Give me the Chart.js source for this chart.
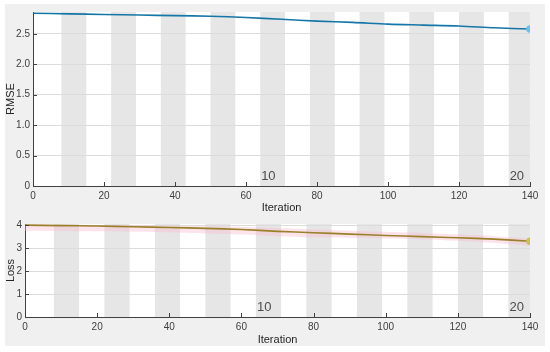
<!DOCTYPE html>
<html><head><meta charset="utf-8">
<script src="https://cdn.jsdelivr.net/npm/chart.js@4/dist/chart.umd.min.js"></script>
<style>
html,body{margin:0;padding:0;background:#fff;width:550px;height:352px;overflow:hidden;}
#panel{position:absolute;left:5px;top:4px;width:540px;height:342px;background:#f0f0f0;}
canvas{position:absolute;left:0;}
#c1{top:0;} #c2{top:215px;}
</style></head>
<body>
<div id="panel"></div>
<canvas id="c1" width="550" height="215"></canvas>
<canvas id="c2" width="550" height="137"></canvas>
<script>
// ---- data ----
const iterations = [0,10,20,30,40,50,60,70,80,90,100,110,120,130,140];
const rmse       = [2.84,2.83,2.82,2.81,2.80,2.79,2.77,2.74,2.71,2.69,2.66,2.645,2.63,2.60,2.58];
const loss       = [4.00,3.98,3.96,3.93,3.90,3.86,3.81,3.73,3.67,3.61,3.55,3.50,3.45,3.39,3.30];
const lossRawHigh= [4.04,4.03,4.01,4.00,3.97,3.95,3.92,3.88,3.82,3.76,3.71,3.66,3.60,3.52,3.42];
const lossRawLow = [3.76,3.75,3.73,3.71,3.68,3.64,3.59,3.52,3.47,3.44,3.42,3.38,3.32,3.22,3.10];
const epochStarts = [1,8,15,22,29,36,43,50,57,64,71,78,85,92,99,106,113,120,127,134];
const epochLabels = [10,20];
const xTicks = [0,20,40,60,80,100,120,140];
const rmseTicks = [0,0.5,1,1.5,2,2.5];
const lossTicks = [0,1,2,3,4];

const FONT = "'Liberation Sans', Arial, sans-serif";
const pts = (ys) => iterations.map((x,i)=>({x, y: ys[i]}));

const bandPlugin = {
  id:'bands',
  beforeDraw(chart){
    const {ctx, chartArea:a, scales:{x}} = chart;
    ctx.save();
    ctx.fillStyle='#ffffff';
    ctx.fillRect(a.left,a.top,a.right-a.left,a.bottom-a.top);
    ctx.fillStyle='#e6e6e6';
    epochStarts.forEach((s,i)=>{
      if ((i+1)%2===0){
        const x0 = Math.max(a.left, x.getPixelForValue(s));
        const x1 = Math.min(a.right, x.getPixelForValue(s+7));
        ctx.fillRect(x0,a.top,x1-x0,a.bottom-a.top);
      }
    });
    ctx.restore();
  },
  afterDraw(chart){
    const {ctx, chartArea:a, scales:{x,y}} = chart;
    ctx.save();
    ctx.fillStyle='#4d4d4d';
    ctx.font = "13px "+FONT;
    ctx.textAlign='center'; ctx.textBaseline='bottom';
    epochLabels.forEach(e=>{
      const s = epochStarts[e-1];
      ctx.fillText(String(e), x.getPixelForValue(s+2.3), a.bottom-3);
    });
    ctx.strokeStyle='#404040'; ctx.lineWidth=1;
    ctx.beginPath();
    xTicks.forEach(t=>{
      const px = Math.round(x.getPixelForValue(t))+0.5;
      ctx.moveTo(px, a.bottom); ctx.lineTo(px, a.bottom-4);
    });
    y.ticks.forEach(t=>{
      const py = Math.round(y.getPixelForValue(t.value))+0.5;
      ctx.moveTo(a.left, py); ctx.lineTo(a.left+4, py);
    });
    ctx.stroke();
    ctx.restore();
  }
};

function makeChart(id, datasets, yTitle, yMax, yTickVals, yWidth, xHeight, pad, titlePadBottom){
  return new Chart(document.getElementById(id), {
    type:'line',
    data:{datasets},
    options:{
      responsive:false, animation:false, devicePixelRatio:1,
      layout:{padding:pad},
      plugins:{legend:{display:false}, tooltip:{enabled:false}},
      scales:{
        x:{type:'linear', min:0, max:140,
          afterBuildTicks(s){ s.ticks = xTicks.map(v=>({value:v})); },
          afterFit(s){ s.height = xHeight; },
          grid:{drawOnChartArea:false, drawTicks:false},
          border:{color:'#404040', width:1},
          ticks:{color:'#404040', font:{family:FONT,size:10}, padding:4, maxRotation:0, autoSkip:false},
          title:{display:true, text:'Iteration', color:'#262626', font:{family:FONT,size:11}, padding:{top:0,bottom:titlePadBottom}}
        },
        y:{min:0, max:yMax,
          afterBuildTicks(s){ s.ticks = yTickVals.map(v=>({value:v})); },
          afterFit(s){ s.width = yWidth; },
          grid:{color:'#dcdcdc', drawTicks:false},
          border:{color:'#404040', width:1},
          ticks:{color:'#404040', font:{family:FONT,size:10}, padding:3},
          title:{display:true, text:yTitle, color:'#262626', font:{family:FONT,size:11}, padding:{top:4,bottom:0}}
        }
      }
    },
    plugins:[bandPlugin]
  });
}

makeChart('c1', [
  {data:pts(rmse), borderColor:'#1577a8', borderWidth:1.6, tension:0.3,
   pointRadius:iterations.map((_,i)=>i===iterations.length-1?3:0),
   pointBackgroundColor:'#6cc0e8', pointBorderColor:'#6cc0e8'}
], 'RMSE', 2.86, rmseTicks, 33, 29, {top:12,right:20,left:0,bottom:0}, 0);

makeChart('c2', [
  {data:pts(loss), borderColor:'#9a8128', borderWidth:1.6, tension:0.3,
   pointRadius:iterations.map((_,i)=>i===iterations.length-1?3:0),
   pointBackgroundColor:'#c6c25a', pointBorderColor:'#c6c25a'},
  {data:pts(lossRawHigh), borderColor:'rgba(0,0,0,0)', pointRadius:0, fill:false, tension:0.3},
  {data:pts(lossRawLow), borderColor:'rgba(0,0,0,0)', backgroundColor:'rgba(250,185,208,0.40)', pointRadius:0, fill:'-1', tension:0.3}
], 'Loss', 4.05, lossTicks, 25, 35, {top:8,right:20,left:0,bottom:0}, 5);
</script>
</body></html>
